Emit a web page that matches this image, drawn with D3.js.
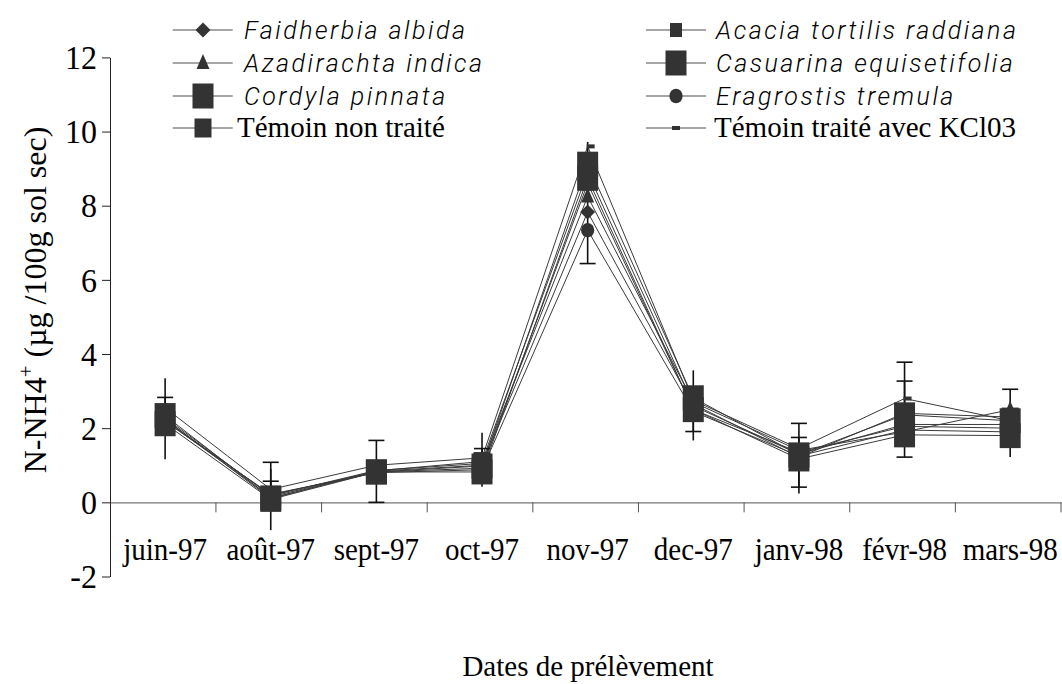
<!DOCTYPE html>
<html>
<head>
<meta charset="utf-8">
<script src="https://cdn.jsdelivr.net/npm/d3@7"></script>
<style>
  html, body { margin: 0; padding: 0; background: #fff; }
  svg { display: block; }
  .serif { font-family: "Liberation Serif", "Times New Roman", serif; }
  .ital { font-family: Roboto, "Liberation Sans", Arial, sans-serif; font-style: italic; font-weight: 300; }
</style>
</head>
<body>
<svg id="chart" width="1062" height="684"></svg>
<script>
// Sampling dates
const dates = ["juin-97", "août-97", "sept-97", "oct-97", "nov-97", "dec-97", "janv-98", "févr-98", "mars-98"];
const yTicks = [-2, 0, 2, 4, 6, 8, 10, 12];

// N-NH4+ (µg / 100 g dry soil) per treatment
const faidherbia  = [2.20, 0.15, 0.84, 1.00, 7.83, 2.60, 1.30, 2.10, 2.10];
const acacia      = [2.22, 0.20, 0.82, 0.92, 8.60, 2.50, 1.35, 2.05, 2.00];
const azadirachta = [2.28, 0.18, 0.86, 1.05, 8.25, 2.70, 1.40, 1.90, 2.50];
const casuarina   = [2.34, 0.12, 0.82, 0.98, 9.12, 2.82, 1.28, 2.36, 2.20];
const cordyla     = [2.12, 0.08, 0.82, 0.82, 8.74, 2.50, 1.17, 1.82, 1.80];
const eragrostis  = [2.18, 0.22, 0.80, 0.88, 7.34, 2.45, 1.25, 1.95, 1.90];
const temoin      = [2.25, 0.10, 0.85, 1.10, 8.90, 2.65, 1.22, 2.40, 2.30];
const temoinKcl   = [2.55, 0.35, 1.00, 1.20, 9.60, 2.75, 1.45, 2.80, 2.20];

// Error bar extents (low / high)
const errTemoinLow  = [2.10, 0.00, 0.00, 0.70, 6.44, 1.91, 0.41, 1.22, 2.00];
const errTemoinHigh = [2.83, 1.08, 1.67, 1.45, 8.90, 2.60, 2.13, 3.78, 3.05];
const errKclLow     = [null, 0.10, null, null, null, null, 1.20, 2.00, null];
const errKclHigh    = [null, 0.57, null, null, null, null, 1.75, 3.27, null];
const errCordLow    = [1.16, -0.75, null, 0.42, 8.50, 1.67, 0.24, null, 1.22];
const errCordHigh   = [3.35, 0.90, null, 1.88, 9.72, 3.56, 1.30, null, 2.20];

const seriesNames = [
  "Faidherbia albida", "Acacia tortilis raddiana", "Azadirachta indica",
  "Casuarina equisetifolia", "Cordyla pinnata", "Eragrostis tremula",
  "Témoin non traité", "Témoin traité avec KCl03"
];
const seriesValues = [faidherbia, acacia, azadirachta, casuarina, cordyla, eragrostis, temoin, temoinKcl];
const seriesMarker = ["diamond", "sqSmall", "triangle", "sqBig", "sqBig", "circle", "sqMid", "dash"];
const italicName = [true, true, true, true, true, true, false, false];

const svg = d3.select("#chart");
const ink = "#333";

const x = d3.scaleBand().domain(dates).range([110.3, 1061]).paddingInner(0).paddingOuter(0);
const cx = d => x(d) + x.bandwidth() / 2 + 2;
const y = d3.scaleLinear().domain([-2, 12]).range([576.5, 57.4]);

// marker shapes, centred on (0,0)
function marker(g, type) {
  const m = {
    sqBig:   () => g.append("rect").attr("x", -10.5).attr("y", -12.5).attr("width", 21).attr("height", 25),
    sqMid:   () => g.append("rect").attr("x", -8.5).attr("y", -9.5).attr("width", 17).attr("height", 19),
    sqSmall: () => g.append("rect").attr("x", -6).attr("y", -7).attr("width", 12).attr("height", 14),
    dash:    () => g.append("rect").attr("x", -4).attr("y", -2).attr("width", 8).attr("height", 4),
    diamond: () => g.append("path").attr("d", "M0,-7.5L7.5,0L0,7.5L-7.5,0Z"),
    triangle:() => g.append("path").attr("d", "M0,-9L6.5,6L-6.5,6Z"),
    circle:  () => g.append("ellipse").attr("rx", 6.6).attr("ry", 7.3)
  };
  m[type]().attr("fill", ink);
}

// y axis
const yAxis = svg.append("g").attr("transform", "translate(110,0)")
  .call(d3.axisLeft(y).tickValues(yTicks).tickSize(8).tickSizeOuter(0).tickPadding(6)
    .tickFormat(d => String(d)));
yAxis.select(".domain").attr("stroke", "#222");
yAxis.selectAll(".tick line").attr("stroke", "#222");
yAxis.selectAll(".tick text").attr("class", "serif").attr("font-size", 32).attr("fill", "#000")
  .attr("x", 0).attr("dy", "0.33em").attr("transform", "translate(-13,0) scale(1,1.06)");

// x axis along the zero line
const xAxis = svg.append("g").attr("transform", `translate(0,${y(0)})`)
  .call(d3.axisBottom(x).tickSize(0).tickSizeOuter(0).tickPadding(37));
xAxis.select(".domain").attr("stroke", "#777").attr("stroke-width", 1.3);
xAxis.selectAll(".tick text").attr("class", "serif").attr("font-size", 29).attr("fill", "#000")
  .attr("y", 0).attr("dy", 0).attr("transform", "translate(2,58) scale(1,1.08)");
xAxis.selectAll(".bound").data(dates).enter().append("line")
  .attr("class", "bound")
  .attr("x1", d => x(d) + x.bandwidth()).attr("x2", d => x(d) + x.bandwidth())
  .attr("y1", 0).attr("y2", 10).attr("stroke", "#555");

// series lines
const line = d3.line().x((v, i) => cx(dates[i])).y(v => y(v));
seriesValues.forEach(vals => {
  svg.append("path").attr("d", line(vals)).attr("fill", "none")
    .attr("stroke", "#3a3a3a").attr("stroke-width", 1);
});

// error bars
function errorBars(lows, highs, capped) {
  dates.forEach((d, i) => {
    if (lows[i] == null) return;
    const px = cx(d);
    svg.append("line").attr("x1", px).attr("x2", px).attr("y1", y(lows[i])).attr("y2", y(highs[i]))
      .attr("stroke", "#111").attr("stroke-width", 1.6);
    if (capped) {
      [lows[i], highs[i]].forEach(v => {
        svg.append("line").attr("x1", px - 8).attr("x2", px + 8).attr("y1", y(v)).attr("y2", y(v))
          .attr("stroke", "#111").attr("stroke-width", 1.6);
      });
    }
  });
}
errorBars(errCordLow, errCordHigh, false);
errorBars(errTemoinLow, errTemoinHigh, true);
errorBars(errKclLow, errKclHigh, true);

// markers
seriesValues.forEach((vals, s) => {
  vals.forEach((v, i) => {
    const g = svg.append("g").attr("transform", `translate(${cx(dates[i]) + (seriesMarker[s] === "dash" ? 3 : 0)},${y(v)})`);
    marker(g, seriesMarker[s]);
  });
});

// legend
const legendCols = [
  { x1: 172.7, x2: 232.7, mx: 203, tx: 237, txi: 244 },
  { x1: 646, x2: 706, mx: 676, tx: 714, txi: 716 }
];
const legendRows = [30, 63, 96, 128];
const legendOrder = [[0, 1], [2, 3], [4, 5], [6, 7]];
legendOrder.forEach((pair, r) => {
  pair.forEach((s, c) => {
    const col = legendCols[c], ry = legendRows[r];
    svg.append("line").attr("x1", col.x1).attr("x2", col.x2).attr("y1", ry).attr("y2", ry)
      .attr("stroke", "#888").attr("stroke-width", 1.5);
    const g = svg.append("g").attr("transform", `translate(${col.mx},${ry})`);
    marker(g, seriesMarker[s]);
    const t = svg.append("text").attr("y", ry + 9).text(seriesNames[s]).attr("fill", "#000");
    if (italicName[s]) t.attr("class", "ital").attr("x", col.txi).attr("font-size", 25).attr("letter-spacing", 2.5);
    else t.attr("class", "serif").attr("x", col.tx).attr("font-size", 29);
  });
});

// axis titles
const yt = svg.append("text").attr("class", "serif").attr("font-size", 32)
  .attr("transform", "translate(46,300) rotate(-90)").attr("text-anchor", "middle").attr("fill", "#000");
yt.append("tspan").text("N-NH4");
yt.append("tspan").attr("dy", -13).attr("font-size", 21).text("+");
yt.append("tspan").attr("dy", 13).text(" (µg /100g sol sec)");

svg.append("text").attr("class", "serif").attr("font-size", 29).attr("x", 588).attr("y", 676)
  .attr("text-anchor", "middle").attr("fill", "#000").text("Dates de prélèvement");
</script>
</body>
</html>
